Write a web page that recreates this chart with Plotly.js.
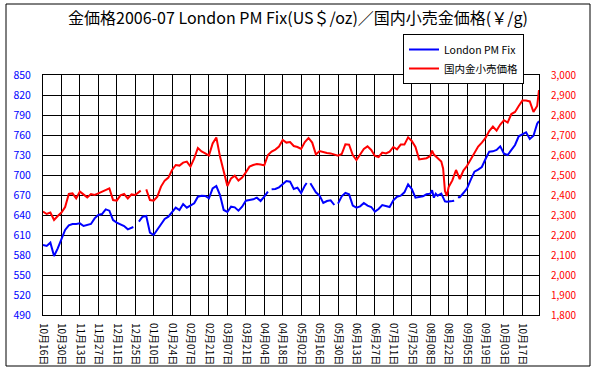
<!DOCTYPE html>
<html>
<head>
<meta charset="utf-8">
<script src="https://cdn.plot.ly/plotly-3.0.1.min.js"></script>
<style>
html,body{margin:0;padding:0;background:#fff;}
#chart{width:596px;height:370px;}
</style>
</head>
<body>
<div id="chart"></div>
<script>
// trading-day index of tick labels (every 10 business days)
const tickLabels = ["10月16日","10月30日","11月13日","11月27日","12月11日","12月25日","01月10日","01月24日","02月07日","02月21日","03月07日","03月21日","04月04日","04月18日","05月02日","05月16日","05月30日","06月13日","06月27日","07月11日","07月25日","08月08日","08月22日","09月05日","09月19日","10月03日","10月17日"];
const tickIdx = [0,10,20,30,40,50,60,70,80,90,100,110,120,130,140,150,160,170,180,190,200,210,220,230,240,250,260];

// London PM Fix (US$/oz), by trading-day index
const londonIdx = [0,2,4,6,8,10,12,14,16,18,20,22,24,26,28,30,32,34,36,38,40,42,44,46,48,49,50,52,54,56,58,60,62,64,66,68,70,72,74,76,78,80,82,84,86,88,90,92,94,96,98,100,102,104,106,108,110,112,114,116,118,120,122,123,124,126,128,130,132,134,136,138,140,142,143,144,145,146,148,150,152,154,156,158,159,160,162,164,166,168,170,172,174,176,178,180,182,184,186,188,190,192,194,196,198,200,202,204,206,208,210,211,212,213,214,216,217,218,219,220,222,223,224,225,226,228,230,232,234,236,238,240,242,244,246,248,250,252,254,256,258,260,262,264,266,268,269];
const londonFix = [595,593.5,598.5,578.5,590,603.5,617.5,624.5,626.5,626.5,627.5,623.5,624.5,626.5,635,640,641.5,648.5,646.5,632.5,628.5,626.5,623.5,618.5,621.5,622,null,630,637.5,638.5,613.5,610,618.5,627.5,634,637.5,644.5,651,647.5,656.5,651,654.5,657.5,667.5,669,668.5,665,680,683.5,670,647.5,644.5,652.5,651.5,646.5,652.5,661.5,662.5,663.5,666,661,667.5,675,null,678.5,679,681.5,686,691,690,679,681,673,684,688,null,687.5,683,674,669,658,661,662,655,null,657,668,673,671,654,651,653,658,654,652,645,649,655,653,652,662,667.5,669,674,686,679,666,667,668,671,672,677,666,672,669,672,665,660.5,660,660,661,661.5,null,666.5,666.5,673,680,693,705,708,712,724,735,735.5,737.5,743,732,730,737.5,745,758,761,764,754,759,777,781];

// 国内金小売価格 (円/g), by trading-day index
const retailIdx = [0,2,4,6,8,10,12,14,16,18,20,22,24,26,28,30,32,34,36,38,40,42,44,46,48,50,52,53,54,56,58,60,62,64,66,68,70,72,74,76,78,80,82,84,86,88,90,92,94,96,98,100,102,104,106,108,110,112,114,116,118,120,122,124,126,128,130,132,134,136,138,140,142,144,146,148,150,152,154,156,158,160,162,164,166,168,170,172,174,176,178,180,182,184,186,188,190,192,194,196,198,200,202,204,206,208,210,211,212,214,216,217,218,219,220,222,224,226,228,230,232,234,236,238,240,242,244,246,248,250,252,254,256,258,260,262,264,266,268,269];
const retailPrice = [2317,2305,2312,2275,2295,2312,2340,2405,2408,2383,2417,2402,2388,2405,2400,2408,2417,2428,2433,2375,2372,2398,2405,2383,2403,2400,2417,2422,null,2428,2375,2372,2392,2442,2472,2487,2525,2550,2547,2562,2567,2542,2583,2635,2618,2608,2597,2658,2688,2592,2525,2445,2483,2497,2472,2487,2513,2542,2550,2555,2552,2548,2600,2617,2627,2642,2675,2662,2665,2645,2640,2630,2665,2685,2662,2603,2620,2614,2610,2608,2604,2597,2605,2653,2652,2600,2575,2600,2630,2643,2625,2595,2590,2612,2608,2617,2640,2628,2652,2652,2688,2670,2640,2578,2582,2584,2595,2622,2602,2582,2567,2533,2420,2395,2440,2473,2525,2480,2522,2546,2580,2612,2642,2662,2685,2720,2742,2722,2752,2774,2762,2805,2815,2845,2872,2872,2868,2815,2845,2925];

const FONT = "'MS PGothic','Noto Sans CJK JP','Noto Sans',sans-serif";

const traces = [
  {x: londonIdx, y: londonFix, name: "London PM Fix", type: "scatter", mode: "lines",
   line: {color: "#0000FF", width: 2}, connectgaps: false, yaxis: "y"},
  {x: retailIdx, y: retailPrice, name: "国内金小売価格", type: "scatter", mode: "lines",
   line: {color: "#FF0000", width: 2}, connectgaps: false, yaxis: "y2"}
];

const L = 43, R = 57, T = 75, B = 55;
const pw = 596 - L - R, ph = 370 - T - B;
const px = v => (v - L) / pw;
const py = v => (370 - B - v) / ph;

const layout = {
  width: 596, height: 370,
  margin: {l: L, r: R, t: T, b: B, pad: 0},
  paper_bgcolor: "#fff", plot_bgcolor: "#fff",
  font: {family: FONT, size: 10, color: "#000"},
  title: {text: "金価格2006-07 London PM Fix(US＄/oz)／国内小売金価格(￥/g)",
          font: {family: FONT, size: 16, color: "#000"},
          xref: "container", x: 0.5, xanchor: "center",
          yref: "container", y: 1 - 18/370, yanchor: "middle"},
  showlegend: true,
  legend: {x: px(403), xanchor: "left", y: py(34), yanchor: "top",
           bgcolor: "#fff", bordercolor: "#000", borderwidth: 1,
           font: {family: FONT, size: 10.5, color: "#000"}, tracegroupgap: 0},
  xaxis: {range: [0, 269], tickmode: "array", tickvals: tickIdx, ticktext: tickLabels,
          tickangle: 90, showgrid: true, gridcolor: "#000", gridwidth: 1,
          zeroline: false, showline: true, linecolor: "#000", linewidth: 1, mirror: true,
          ticks: "", ticklabelstandoff: 5,
          tickfont: {family: FONT, size: 10, color: "#000"}, fixedrange: true},
  yaxis: {range: [490, 850], tick0: 490, dtick: 30, showgrid: true, gridcolor: "#000", gridwidth: 1,
          zeroline: false, showline: true, linecolor: "#000", linewidth: 1, mirror: true,
          ticks: "", ticklabelstandoff: 9,
          tickfont: {family: FONT, size: 10.5, color: "#0000FF"}},
  yaxis2: {range: [1800, 3000], tick0: 1800, dtick: 100, overlaying: "y", side: "right",
           showgrid: false, zeroline: false, showline: true, linecolor: "#000",
           ticks: "", tickformat: ",d", ticklabelstandoff: 9,
           tickfont: {family: FONT, size: 10, color: "#FF0000"}},
  shapes: [{type: "rect", xref: "paper", yref: "paper",
            x0: px(6), x1: px(590), y0: py(366), y1: py(4),
            line: {color: "#000", width: 1}, fillcolor: "rgba(0,0,0,0)", layer: "below"}]
};

Plotly.newPlot("chart", traces, layout, {displayModeBar: false, staticPlot: true});
</script>
</body>
</html>
